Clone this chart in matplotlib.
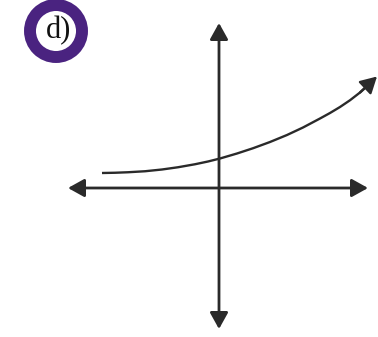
import matplotlib
matplotlib.use("Agg")
import matplotlib.pyplot as plt
from matplotlib.patches import Circle

# --- data (1 unit = 50 px, origin at the axes crossing) ---
curve_x = [-2.34, -2.08, -1.82, -1.48, -1.14, -0.82, -0.48, -0.22, 0.02, 0.36, 0.68,
           1.02, 1.36, 1.68, 2.02, 2.22, 2.42, 2.62, 2.82, 3.02, 3.16]
curve_y = [0.30, 0.305, 0.315, 0.335, 0.37, 0.415, 0.475, 0.53, 0.59, 0.69, 0.795,
           0.92, 1.06, 1.21, 1.39, 1.50, 1.62, 1.755, 1.91, 2.09, 2.23]
x_axis_range = [-3.02, 2.98]
y_axis_range = [-2.82, 3.30]
panel_label = "d)"

ink = "#2a2a2a"
purple = "#4a2380"

fig = plt.figure(figsize=(3.78, 3.37), dpi=100)
ax = fig.add_axes([0, 0, 1, 1])
ax.set_xlim(-219 / 50, (378 - 219) / 50)
ax.set_ylim((188 - 337) / 50, 188 / 50)
ax.axis("off")

# axes with arrows at both ends
arrow = dict(arrowstyle="<|-|>,head_length=0.45,head_width=0.25",
             color=ink, lw=2.0, shrinkA=0, shrinkB=0, mutation_scale=22)
ax.annotate("", xy=(x_axis_range[1], 0), xytext=(x_axis_range[0], 0), arrowprops=arrow)
ax.annotate("", xy=(0, y_axis_range[1]), xytext=(0, y_axis_range[0]), arrowprops=arrow)

# exponential-looking curve
ax.plot(curve_x[:-1], curve_y[:-1], color=ink, lw=1.7, solid_capstyle="butt",
        solid_joinstyle="round")
ax.annotate("", xy=(curve_x[-1], curve_y[-1]), xytext=(curve_x[-3], curve_y[-3]),
            arrowprops=dict(arrowstyle="-|>,head_length=0.45,head_width=0.25",
                            color=ink, lw=1.7, shrinkA=0, shrinkB=0, mutation_scale=22))

# circled panel label
ax.add_patch(Circle((-3.26, 3.14), 0.52, fill=False, edgecolor=purple, lw=8.6))
ax.text(-3.2, 3.14, panel_label, fontsize=22, family="Liberation Serif",
        ha="center", va="center", color="#111111")

fig.savefig("out.png", dpi=100)
